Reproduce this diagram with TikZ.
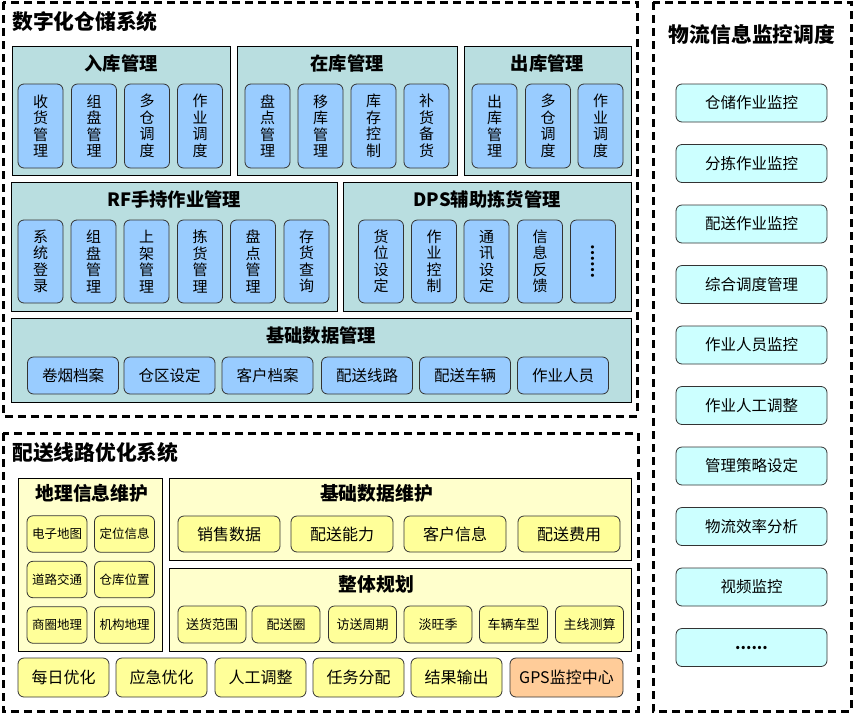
\documentclass[tikz,border=0pt]{standalone}
\usepackage{fontspec}
\setmainfont{Noto Sans CJK SC}
\usepackage{tikz}

\definecolor{grpteal}{RGB}{185,222,224}
\definecolor{itemblue}{RGB}{153,204,255}
\definecolor{itemcyan}{RGB}{204,255,255}
\definecolor{grpyellow}{RGB}{255,255,204}
\definecolor{itemyellow}{RGB}{255,255,153}
\definecolor{itemorange}{RGB}{255,204,153}

\begin{document}
\begin{tikzpicture}[x=1pt,y=-1pt,
	sysbox/.style={draw=black,line width=3pt,dash pattern=on 8pt off 5pt},
	systitle/.style={font=\fontsize{20.8}{22}\selectfont\bfseries,inner sep=0},
	grptitle/.style={font=\fontsize{18.3}{20}\selectfont\bfseries,inner sep=0},
	grpbox/.style={draw=black,line width=0.8pt,inner sep=0},
	itembox/.style={draw=black!80,line width=0.8pt,rounded corners=6pt,inner sep=0,align=center},
	vbox/.style={itembox,fill=itemblue,minimum width=45pt,minimum height=84pt,font=\fontsize{15}{16.5}\selectfont},
	hbox/.style={itembox,fill=itemblue,minimum width=91pt,minimum height=37pt,font=\fontsize{15.5}{17}\selectfont},
	mbox/.style={itembox,fill=itemcyan,minimum width=151pt,minimum height=38pt,font=\fontsize{15.5}{17}\selectfont},
	ybox/.style={itembox,fill=itemyellow,font=\fontsize{16}{18}\selectfont}
	]
	
	\useasboundingbox (0,0) rectangle (855,713);
	
	% outer systems
	\draw[sysbox] (3,2) rectangle (637,416);
	\draw[sysbox] (3,433) rectangle (638,711);
	\draw[sysbox] (653,2) rectangle (851,711);
	\node[systitle,anchor=west] (wms) at (12,22) {数字化仓储系统};
	\node[systitle,anchor=west] (route) at (12,453) {配送线路优化系统};
	\node[systitle] (monitor) at (752,35) {物流信息监控调度};
	
	% 入库 / 在库 / 出库
	\node[grpbox,fill=grpteal,minimum width=218pt,minimum height=129pt] (ruku) at (121,110.5) {};
	\node[grpbox,fill=grpteal,minimum width=220pt,minimum height=129pt] (zaiku) at (347,110.5) {};
	\node[grpbox,fill=grpteal,minimum width=167pt,minimum height=129pt] (chuku) at (547.5,110.5) {};
	\node[grptitle] at (121,63) {入库管理};
	\node[grptitle] at (347,63) {在库管理};
	\node[grptitle] at (547.5,63) {出库管理};
	
	\node[vbox] (rk1) at (40.5,126) {收\\货\\管\\理};
	\node[vbox] (rk2) at (94,126) {组\\盘\\管\\理};
	\node[vbox] (rk3) at (147,126) {多\\仓\\调\\度};
	\node[vbox] (rk4) at (200,126) {作\\业\\调\\度};
	
	\node[vbox] (zk1) at (267.5,126) {盘\\点\\管\\理};
	\node[vbox] (zk2) at (320.5,126) {移\\库\\管\\理};
	\node[vbox] (zk3) at (373.5,126) {库\\存\\控\\制};
	\node[vbox] (zk4) at (426.5,126) {补\\货\\备\\货};
	
	\node[vbox] (ck1) at (494.5,126) {出\\库\\管\\理};
	\node[vbox] (ck2) at (548,126) {多\\仓\\调\\度};
	\node[vbox] (ck3) at (600.5,126) {作\\业\\调\\度};
	
	% RF / DPS
	\node[grpbox,fill=grpteal,minimum width=326pt,minimum height=129pt] (rf) at (174,246.5) {};
	\node[grpbox,fill=grpteal,minimum width=288pt,minimum height=129pt] (dps) at (487,246.5) {};
	\node[grptitle] at (174,199) {RF手持作业管理};
	\node[grptitle] at (487,199) {DPS辅助拣货管理};
	
	\node[vbox,minimum height=83pt] (rf1) at (40.5,261.5) {系\\统\\登\\录};
	\node[vbox,minimum height=83pt] (rf2) at (93.5,261.5) {组\\盘\\管\\理};
	\node[vbox,minimum height=83pt] (rf3) at (146.5,261.5) {上\\架\\管\\理};
	\node[vbox,minimum height=83pt] (rf4) at (200,261.5) {拣\\货\\管\\理};
	\node[vbox,minimum height=83pt] (rf5) at (253,261.5) {盘\\点\\管\\理};
	\node[vbox,minimum height=83pt] (rf6) at (306.5,261.5) {存\\货\\查\\询};
	
	\node[vbox,minimum height=83pt] (dps1) at (381,261.5) {货\\位\\设\\定};
	\node[vbox,minimum height=83pt] (dps2) at (434,261.5) {作\\业\\控\\制};
	\node[vbox,minimum height=83pt] (dps3) at (486.5,261.5) {通\\讯\\设\\定};
	\node[vbox,minimum height=83pt] (dps4) at (540,261.5) {信\\息\\反\\馈};
	\node[vbox,minimum height=83pt] (dps5) at (593,261.5) {\rotatebox{-90}{\bfseries ……}};
	
	% 基础数据管理
	\node[grpbox,fill=grpteal,minimum width=620pt,minimum height=84pt] (jichu) at (321,360) {};
	\node[grptitle] at (321,336) {基础数据管理};
	\node[hbox] (jc1) at (73,375.5) {卷烟档案};
	\node[hbox] (jc2) at (169.5,375.5) {仓区设定};
	\node[hbox] (jc3) at (267.5,375.5) {客户档案};
	\node[hbox] (jc4) at (367,375.5) {配送线路};
	\node[hbox] (jc5) at (465,375.5) {配送车辆};
	\node[hbox] (jc6) at (563,375.5) {作业人员};
	
	% 物流信息监控调度
	\node[mbox] (jk1) at (751.5,103) {仓储作业监控};
	\node[mbox] (jk2) at (751.5,163.5) {分拣作业监控};
	\node[mbox] (jk3) at (751.5,224) {配送作业监控};
	\node[mbox] (jk4) at (751.5,284.5) {综合调度管理};
	\node[mbox] (jk5) at (751.5,345) {作业人员监控};
	\node[mbox] (jk6) at (751.5,405.5) {作业人工调整};
	\node[mbox] (jk7) at (751.5,466) {管理策略设定};
	\node[mbox] (jk8) at (751.5,526.5) {物流效率分析};
	\node[mbox] (jk9) at (751.5,587) {视频监控};
	\node[mbox] (jk10) at (751.5,647.5) {\bfseries ......};
	
	% 地理信息维护
	\node[grpbox,fill=grpyellow,minimum width=144pt,minimum height=173pt] (geo) at (90,564.5) {};
	\node[grptitle,font=\fontsize{18.8}{20}\selectfont\bfseries] at (92,493) {地理信息维护};
	\node[ybox,minimum width=60pt,minimum height=36.5pt,font=\fontsize{12.5}{14}\selectfont] (geo1) at (57,534) {电子地图};
	\node[ybox,minimum width=60pt,minimum height=36.5pt,font=\fontsize{12.5}{14}\selectfont] (geo2) at (124.5,534) {定位信息};
	\node[ybox,minimum width=60pt,minimum height=36.5pt,font=\fontsize{12.5}{14}\selectfont] (geo3) at (57,579.5) {道路交通};
	\node[ybox,minimum width=60pt,minimum height=36.5pt,font=\fontsize{12.5}{14}\selectfont] (geo4) at (124.5,579.5) {仓库位置};
	\node[ybox,minimum width=60pt,minimum height=36.5pt,font=\fontsize{12.5}{14}\selectfont] (geo5) at (57,625) {商圈地理};
	\node[ybox,minimum width=60pt,minimum height=36.5pt,font=\fontsize{12.5}{14}\selectfont] (geo6) at (124.5,625) {机构地理};
	
	% 基础数据维护
	\node[grpbox,fill=grpyellow,minimum width=462pt,minimum height=82pt] (base) at (400,519) {};
	\node[grptitle,font=\fontsize{18.8}{20}\selectfont\bfseries] at (376.5,493) {基础数据维护};
	\node[ybox,minimum width=102pt,minimum height=36pt] (base1) at (229,534) {销售数据};
	\node[ybox,minimum width=102pt,minimum height=36pt] (base2) at (342,534) {配送能力};
	\node[ybox,minimum width=102pt,minimum height=36pt] (base3) at (455,534) {客户信息};
	\node[ybox,minimum width=102pt,minimum height=36pt] (base4) at (569,534) {配送费用};
	
	% 整体规划
	\node[grpbox,fill=grpyellow,minimum width=462pt,minimum height=83pt] (plan) at (400,609.5) {};
	\node[grptitle,font=\fontsize{18.8}{20}\selectfont\bfseries] at (376.5,584) {整体规划};
	\node[ybox,minimum width=68pt,minimum height=37pt,font=\fontsize{13}{15}\selectfont] (plan1) at (212,624.5) {送货范围};
	\node[ybox,minimum width=68pt,minimum height=37pt,font=\fontsize{13}{15}\selectfont] (plan2) at (286,624.5) {配送圈};
	\node[ybox,minimum width=68pt,minimum height=37pt,font=\fontsize{13}{15}\selectfont] (plan3) at (362.5,624.5) {访送周期};
	\node[ybox,minimum width=68pt,minimum height=37pt,font=\fontsize{13}{15}\selectfont] (plan4) at (438,624.5) {淡旺季};
	\node[ybox,minimum width=68pt,minimum height=37pt,font=\fontsize{13}{15}\selectfont] (plan5) at (513.5,624.5) {车辆车型};
	\node[ybox,minimum width=68pt,minimum height=37pt,font=\fontsize{13}{15}\selectfont] (plan6) at (589.5,624.5) {主线测算};
	
	% bottom row
	\node[ybox,minimum width=91pt,minimum height=39pt] (op1) at (63.5,677.5) {每日优化};
	\node[ybox,minimum width=91pt,minimum height=39pt] (op2) at (161.5,677.5) {应急优化};
	\node[ybox,minimum width=91pt,minimum height=39pt] (op3) at (260.5,677.5) {人工调整};
	\node[ybox,minimum width=91pt,minimum height=39pt] (op4) at (358.5,677.5) {任务分配};
	\node[ybox,minimum width=91pt,minimum height=39pt] (op5) at (456.5,677.5) {结果输出};
	\node[ybox,fill=itemorange,minimum width=113pt,minimum height=39pt] (gps) at (566.5,677.5) {GPS监控中心};
	
\end{tikzpicture}
\end{document}
